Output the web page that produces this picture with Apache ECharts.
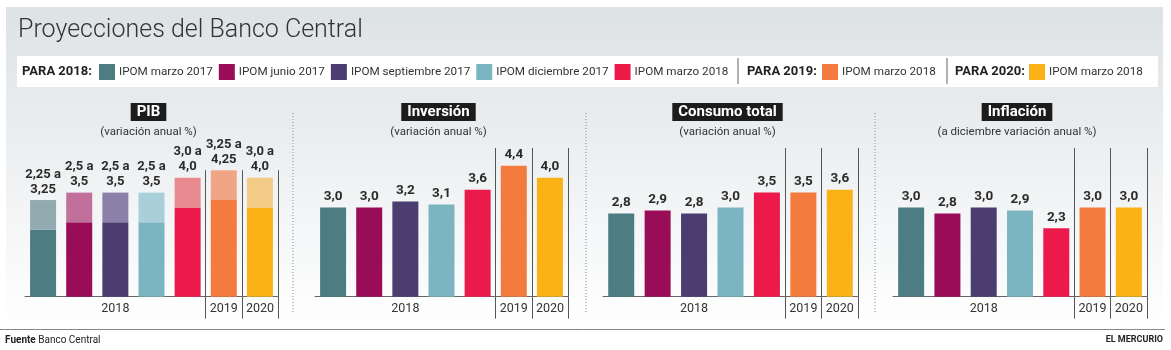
<!DOCTYPE html>
<html>
<head>
<meta charset="utf-8">
<script src="https://cdn.jsdelivr.net/npm/echarts@6/dist/echarts.min.js"></script>
<style>
  html, body { margin: 0; padding: 0; background: #fff; }
  #chart { width: 1171px; height: 350px; }
</style>
</head>
<body>
<div id="chart"></div>
<script>
// data
const legendNames = ['IPOM marzo 2017', 'IPOM junio 2017', 'IPOM septiembre 2017', 'IPOM diciembre 2017', 'IPOM marzo 2018', 'IPOM marzo 2018', 'IPOM marzo 2018'];
const years = ['2018', '2018', '2018', '2018', '2018', '2019', '2020'];
const pibLow = [2.25, 2.5, 2.5, 2.5, 3.0, 3.25, 3.0];
const pibHigh = [3.25, 3.5, 3.5, 3.5, 4.0, 4.25, 4.0];
const inversion = [3.0, 3.0, 3.2, 3.1, 3.6, 4.4, 4.0];
const consumo = [2.8, 2.9, 2.8, 3.0, 3.5, 3.5, 3.6];
const inflacion = [3.0, 2.8, 3.0, 2.9, 2.3, 3.0, 3.0];

const colors = ['#4e7c83', '#990c57', '#4b3d70', '#7cb4c2', '#eb1a4b', '#f47b3e', '#fbb217'];
const lightColors = ['#93abb0', '#c0709a', '#8b81a8', '#a9cfd8', '#e98a90', '#f0a686', '#f4cb86'];

// unique ids for the 7 bars (2019 and 2020 reuse the same IPOM name)
const seriesNames = legendNames.map((n, i) => i < 5 ? n : n + '#' + years[i]);
// put each year label under the middle bar of its group
const labelIdx = [];
[...new Set(years)].forEach(y => {
  const first = years.indexOf(y), last = years.lastIndexOf(y);
  labelIdx.push(Math.floor((first + last) / 2));
});
const yearStart = years.map((y, i) => i > 0 && y !== years[i - 1]);

const unitPx = 29.74;
const baseY = 296.7;
const panels = [
  { title: 'PIB', sub: '(variación anual %)', left: 25, width: 253, yMax: 4.25 },
  { title: 'Inversión', sub: '(variación anual %)', left: 315, width: 253, yMax: 5, values: inversion },
  { title: 'Consumo total', sub: '(variación anual %)', left: 603, width: 255, yMax: 5, values: consumo },
  { title: 'Inflación', sub: '(a diciembre variación anual %)', left: 893, width: 254, yMax: 5, values: inflacion }
];

function fmt(v) {
  const s = Math.round(v * 10) === v * 10 ? v.toFixed(1) : v.toFixed(2);
  return s.replace('.', ',');
}

const FONT = 'Roboto, "Noto Sans", sans-serif';
const labelStyle = { color: '#2b2b2b', fontSize: 13.5, fontWeight: 'bold', fontFamily: FONT };

const grid = [], xAxis = [], yAxis = [], series = [];
const graphic = [
  { type: 'rect', z: -10, shape: { x: 6, y: 7, width: 1157, height: 322 },
    style: { fill: new echarts.graphic.LinearGradient(0, 0, 0, 1, [
      { offset: 0, color: '#dde2e4' }, { offset: 0.4, color: '#ebeef0' }, { offset: 1, color: '#ffffff' }]) } },
  { type: 'text', style: { x: 18, y: 31, text: 'Proyecciones del Banco Central', fill: '#333',
    font: '300 25px ' + FONT, verticalAlign: 'middle' } },
  { type: 'rect', shape: { x: 17, y: 56, width: 1141, height: 31 }, style: { fill: '#ffffff' } },
  { type: 'text', style: { x: 22, y: 72, text: 'PARA 2018:', fill: '#222', font: 'bold 13px ' + FONT, verticalAlign: 'middle' } },
  { type: 'line', shape: { x1: 738, y1: 58, x2: 738, y2: 84 }, style: { stroke: '#666', lineWidth: 1 } },
  { type: 'text', style: { x: 747, y: 72, text: 'PARA 2019:', fill: '#222', font: 'bold 13px ' + FONT, verticalAlign: 'middle' } },
  { type: 'line', shape: { x1: 947, y1: 58, x2: 947, y2: 84 }, style: { stroke: '#666', lineWidth: 1 } },
  { type: 'text', style: { x: 955, y: 72, text: 'PARA 2020:', fill: '#222', font: 'bold 13px ' + FONT, verticalAlign: 'middle' } },
  { type: 'line', shape: { x1: 0, y1: 329.5, x2: 1165, y2: 329.5 }, style: { stroke: '#888', lineWidth: 1 } },
  { type: 'text', style: { x: 5, y: 340, text: '{b|Fuente} Banco Central', fill: '#222', font: '10px ' + FONT,
    verticalAlign: 'middle', rich: { b: { fontWeight: 'bold', fontSize: 10, fontFamily: FONT } } } },
  { type: 'text', style: { x: 1163, y: 340, text: 'EL MERCURIO', fill: '#222', font: 'bold 9px ' + FONT,
    align: 'right', verticalAlign: 'middle' } }
];
[293, 586, 875].forEach(x => graphic.push({ type: 'line', shape: { x1: x, y1: 113, x2: x, y2: 312 },
  style: { stroke: '#888', lineWidth: 1, lineDash: [1, 2] } }));

panels.forEach((p, g) => {
  const h = p.yMax * unitPx;
  const cx = p.left + p.width / 2;
  grid.push({ left: p.left, width: p.width, top: baseY - h, height: h });
  const sep = (i) => yearStart[i] === true;
  xAxis.push({
    gridIndex: g, type: 'category', data: seriesNames,
    axisLine: { lineStyle: { color: '#666', width: 1 } },
    axisTick: { show: true, interval: sep, length: 22, lineStyle: { color: '#555' } },
    splitLine: { show: true, interval: sep, lineStyle: { color: '#555', width: 1 } },
    axisLabel: { interval: (i) => labelIdx.includes(i), formatter: (v, i) => years[i],
      color: '#333', fontSize: 12.5, fontFamily: FONT, margin: 6 }
  });
  yAxis.push({ gridIndex: g, type: 'value', min: 0, max: p.yMax, show: false, splitLine: { show: false } });

  graphic.push({ type: 'text', style: { x: cx - 3, y: 112, text: p.title, fill: '#fff', font: 'bold 15px ' + FONT,
    align: 'center', verticalAlign: 'middle', backgroundColor: '#1c1c1c', padding: [2, 6, 1, 6] } });
  graphic.push({ type: 'text', style: { x: cx - 3, y: 132, text: p.sub, fill: '#333', font: '11.5px ' + FONT,
    align: 'center', verticalAlign: 'middle' } });

  seriesNames.forEach((name, i) => {
    const base = { type: 'bar', name: name, xAxisIndex: g, yAxisIndex: g, stack: 'p' + g, barWidth: 26 };
    if (g === 0) {
      series.push(Object.assign({}, base, {
        itemStyle: { color: colors[i] },
        data: pibLow.map((v, j) => j === i ? v : '-')
      }));
      series.push(Object.assign({}, base, {
        itemStyle: { color: lightColors[i] },
        data: pibHigh.map((v, j) => j === i ? +(v - pibLow[j]).toFixed(2) : '-'),
        label: Object.assign({ show: true, position: 'top', distance: 3, lineHeight: 15, align: 'center',
          formatter: (d) => fmt(pibLow[d.dataIndex]) + ' a\n' + fmt(pibHigh[d.dataIndex]) }, labelStyle, { fontSize: 13 })
      }));
    } else {
      series.push(Object.assign({}, base, {
        itemStyle: { color: colors[i] },
        data: p.values.map((v, j) => j === i ? v : '-'),
        label: Object.assign({ show: true, position: 'top', distance: 4,
          formatter: (d) => fmt(d.value) }, labelStyle)
      }));
    }
  });
});

const legendBase = {
  orient: 'horizontal', top: 64, padding: 0, itemWidth: 16, itemHeight: 16, itemGap: 6, icon: 'rect',
  selectedMode: false,
  textStyle: { color: '#333', fontSize: 11.7, fontFamily: FONT, padding: [0, 0, 0, -1] },
  formatter: (n) => n.split('#')[0]
};

const chart = echarts.init(document.getElementById('chart'));
chart.setOption({
  animation: false,
  backgroundColor: '#ffffff',
  legend: [
    Object.assign({}, legendBase, { left: 99, data: seriesNames.slice(0, 5) }),
    Object.assign({}, legendBase, { left: 822, data: [seriesNames[5]] }),
    Object.assign({}, legendBase, { left: 1029, data: [seriesNames[6]] })
  ],
  grid: grid,
  xAxis: xAxis,
  yAxis: yAxis,
  series: series,
  graphic: graphic
});
</script>
</body>
</html>
